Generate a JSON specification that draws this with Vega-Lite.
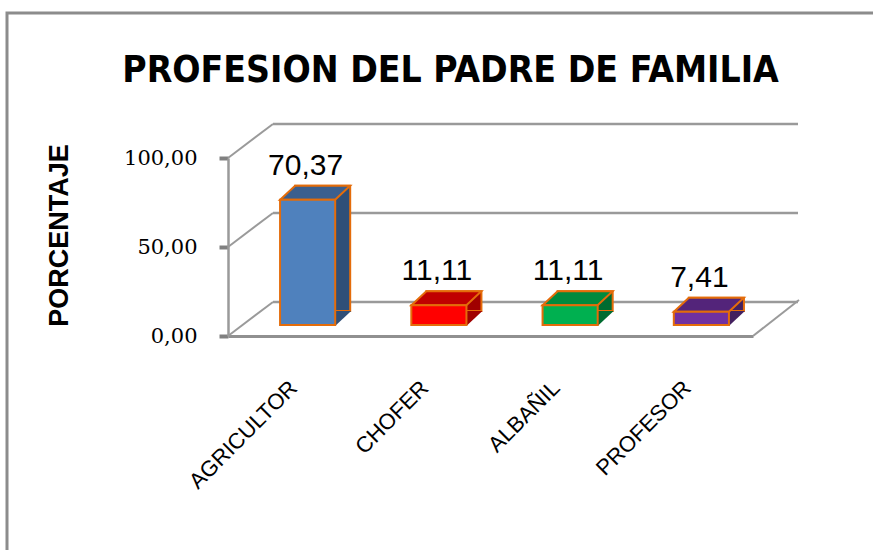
{
  "$schema": "https://vega.github.io/schema/vega-lite/v6.json",
  "width": 525,
  "height": 178,
  "autosize": {"type": "none"},
  "padding": {"left": 228, "top": 158, "right": 120, "bottom": 214},
  "background": "white",
  "config": {
    "view": {"stroke": null},
    "locale": {"number": {"decimal": ",", "thousands": ".", "grouping": [3], "currency": ["", " €"]}}
  },
  "title": {
    "text": "PROFESION DEL PADRE DE  FAMILIA",
    "font": "Liberation Sans Narrow, DejaVu Sans Condensed, sans-serif",
    "fontSize": 37,
    "fontWeight": "bold",
    "color": "#000000",
    "anchor": "middle",
    "frame": "group",
    "baseline": "alphabetic",
    "dx": -40,
    "offset": -107
  },
  "datasets": {
    "prof": [
      {"profesion": "AGRICULTOR", "porcentaje": 70.37},
      {"profesion": "CHOFER", "porcentaje": 11.11},
      {"profesion": "ALBAÑIL", "porcentaje": 11.11},
      {"profesion": "PROFESOR", "porcentaje": 7.41}
    ],
    "ticks": [{"v": 0}, {"v": 50}, {"v": 100}]
  },
  "encoding": {
    "x": {
      "field": "profesion",
      "type": "nominal",
      "sort": ["AGRICULTOR", "CHOFER", "ALBAÑIL", "PROFESOR"],
      "scale": {"domain": ["AGRICULTOR", "CHOFER", "ALBAÑIL", "PROFESOR"], "paddingInner": 0, "paddingOuter": 0},
      "axis": {
        "title": null,
        "labelAngle": -45,
        "labelAlign": "right",
        "labelBaseline": "middle",
        "labelPadding": 48,
        "ticks": false,
        "domainColor": "#909090",
        "domainWidth": 3,
        "labelFont": "Liberation Sans",
        "labelFontSize": 22,
        "labelColor": "#000000"
      }
    }
  },
  "resolve": {"scale": {"fill": "independent"}},
  "layer": [
    {
      "data": {"values": [{}]},
      "mark": {"type": "rect", "fill": null, "stroke": "#8c8c8c", "strokeWidth": 3},
      "encoding": {
        "x": {"value": -221},
        "x2": {"value": 700},
        "y": {"value": -145},
        "y2": {"value": 450}
      }
    },
    {
      "data": {"name": "ticks"},
      "mark": {"type": "rule", "color": "#9a9a9a", "strokeWidth": 2.5, "xOffset": 45, "x2Offset": 45, "yOffset": -34},
      "encoding": {
        "x": {"datum": "AGRICULTOR", "bandPosition": 0},
        "x2": {"datum": "PROFESOR", "bandPosition": 1},
        "y": {"field": "v", "type": "quantitative", "scale": {"domain": [0, 100], "nice": false}}
      }
    },
    {
      "data": {"name": "ticks"},
      "mark": {"type": "rule", "color": "#9a9a9a", "strokeWidth": 2, "x2Offset": 45, "y2Offset": -34},
      "encoding": {
        "x": {"datum": "AGRICULTOR", "bandPosition": 0},
        "x2": {"datum": "AGRICULTOR", "bandPosition": 0},
        "y": {"field": "v", "type": "quantitative"},
        "y2": {"field": "v"}
      }
    },
    {
      "data": {"values": [{"v": 0}]},
      "mark": {"type": "rule", "color": "#9a9a9a", "strokeWidth": 2, "x2Offset": 46, "y2Offset": -36},
      "encoding": {
        "x": {"datum": "PROFESOR", "bandPosition": 1},
        "x2": {"datum": "PROFESOR", "bandPosition": 1},
        "y": {"field": "v", "type": "quantitative"},
        "y2": {"field": "v"}
      }
    },
    {
      "data": {"name": "prof"},
      "mark": {"type": "bar", "width": {"band": 0.42}, "xOffset": 29, "x2Offset": 29, "yOffset": -25, "y2Offset": -25, "stroke": "#e46c0a", "strokeWidth": 2},
      "encoding": {
        "y": {
          "field": "porcentaje",
          "type": "quantitative",
          "scale": {"domain": [0, 100], "nice": false},
          "axis": {
            "values": [0, 50, 100],
            "format": ".2f",
            "grid": false,
            "labelFont": "DejaVu Serif",
            "labelFontSize": 21,
            "labelColor": "#000000",
            "labelPadding": 22,
            "tickSize": 9,
            "tickWidth": 4,
            "tickColor": "#808080",
            "domainColor": "#9a9a9a",
            "domainWidth": 2.5,
            "title": "PORCENTAJE",
            "titleFont": "Liberation Sans",
            "titleFontSize": 27,
            "titleFontWeight": "bold",
            "titleColor": "#000000",
            "titleAngle": 270,
            "titleX": -169,
            "titleY": 77,
            "titleAlign": "center",
            "titleBaseline": "middle"
          }
        },
        "fill": {
          "field": "profesion",
          "type": "nominal",
          "scale": {"domain": ["AGRICULTOR", "CHOFER", "ALBAÑIL", "PROFESOR"], "range": ["#2f4f78", "#a00000", "#006b30", "#43205f"]},
          "legend": null
        }
      }
    },
    {
      "data": {"name": "prof"},
      "mark": {"type": "point", "shape": "M27.5,1L43.5,-14L27.5,-14Z", "size": 4, "filled": true, "opacity": 1, "strokeWidth": 0, "xOffset": 14, "yOffset": -11},
      "encoding": {
        "y": {"datum": 0},
        "fill": {
          "field": "profesion",
          "type": "nominal",
          "scale": {"domain": ["AGRICULTOR", "CHOFER", "ALBAÑIL", "PROFESOR"], "range": ["#2f4f78", "#a00000", "#006b30", "#43205f"]},
          "legend": null
        }
      }
    },
    {
      "data": {"name": "prof"},
      "mark": {"type": "point", "shape": "M-27.5,0L27.5,0L42.5,-14L-12.5,-14Z", "size": 4, "filled": true, "opacity": 1, "stroke": "#e46c0a", "strokeWidth": 2, "xOffset": 14, "yOffset": -11},
      "encoding": {
        "y": {"field": "porcentaje", "type": "quantitative"},
        "fill": {
          "field": "profesion",
          "type": "nominal",
          "scale": {"domain": ["AGRICULTOR", "CHOFER", "ALBAÑIL", "PROFESOR"], "range": ["#3b5f8e", "#c00000", "#008a3e", "#53247a"]},
          "legend": null
        }
      }
    },
    {
      "data": {"name": "prof"},
      "mark": {"type": "bar", "width": {"band": 0.42}, "xOffset": 14, "x2Offset": 14, "yOffset": -11, "y2Offset": -11, "stroke": "#e46c0a", "strokeWidth": 2},
      "encoding": {
        "y": {"field": "porcentaje", "type": "quantitative"},
        "color": {
          "field": "profesion",
          "type": "nominal",
          "scale": {"domain": ["AGRICULTOR", "CHOFER", "ALBAÑIL", "PROFESOR"], "range": ["#4f81bd", "#ff0000", "#00b050", "#7030a0"]},
          "legend": null
        }
      }
    },
    {
      "data": {"name": "prof"},
      "mark": {"type": "text", "xOffset": 12, "yOffset": -36, "baseline": "alphabetic", "align": "center", "font": "Liberation Sans", "fontSize": 30, "color": "#000000"},
      "encoding": {
        "y": {"field": "porcentaje", "type": "quantitative"},
        "text": {"field": "porcentaje", "type": "quantitative", "format": ".2f"}
      }
    }
  ]
}
